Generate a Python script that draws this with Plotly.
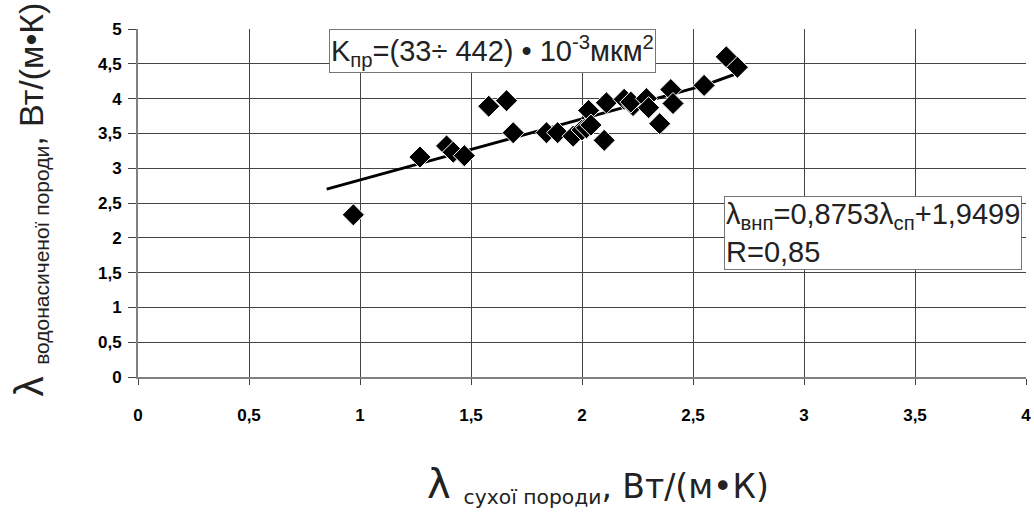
import plotly.graph_objects as go

# data
dry_x = [0.97, 1.27, 1.39, 1.42, 1.47, 1.58, 1.66, 1.69, 1.84, 1.89, 1.96, 2.00,
         2.02, 2.03, 2.04, 2.10, 2.11, 2.19, 2.23, 2.22, 2.29, 2.30, 2.35, 2.40,
         2.41, 2.55, 2.65, 2.70]
wet_y = [2.33, 3.16, 3.32, 3.23, 3.18, 3.89, 3.97, 3.51, 3.51, 3.51, 3.46, 3.55,
         3.58, 3.83, 3.62, 3.40, 3.94, 3.99, 3.90, 3.95, 4.00, 3.87, 3.64, 4.13,
         3.93, 4.19, 4.60, 4.45]
trend_x = [0.85, 2.55, 2.68, 2.70]
trend_y = [2.70, 4.19, 4.34, 4.45]
x_ticks = [0, 0.5, 1, 1.5, 2, 2.5, 3, 3.5, 4]
x_labels = ["0", "0,5", "1", "1,5", "2", "2,5", "3", "3,5", "4"]
y_ticks = [0, 0.5, 1, 1.5, 2, 2.5, 3, 3.5, 4, 4.5, 5]
y_labels = ["0", "0,5", "1", "1,5", "2", "2,5", "3", "3,5", "4", "4,5", "5"]

FONT = "Liberation Sans, Arial, sans-serif"
WIDE = "DejaVu Sans, sans-serif"

fig = go.Figure()
fig.add_trace(go.Scatter(x=trend_x, y=trend_y, mode="lines",
                         line=dict(color="black", width=3), showlegend=False,
                         hoverinfo="skip"))
fig.add_trace(go.Scatter(x=dry_x, y=wet_y, mode="markers",
                         marker=dict(symbol="diamond", size=17, color="black",
                                     line=dict(color="white", width=1)),
                         showlegend=False))

axis_common = dict(showgrid=True, gridcolor="#444", gridwidth=1, showline=True,
                   linecolor="#808080", linewidth=2, ticks="outside",
                   tickcolor="#444", zeroline=False, automargin=False,
                   tickfont=dict(family=FONT, size=17, color="black"))

fig.update_layout(
    width=1034, height=513,
    margin=dict(l=138, r=8, t=29, b=136),
    paper_bgcolor="white", plot_bgcolor="white",
    font=dict(family=FONT, color="black"),
    xaxis=dict(range=[0, 4], tickvals=x_ticks,
               ticktext=["<b>%s</b>" % t for t in x_labels],
               ticklen=6, ticklabelstandoff=16, ticklabeloverflow="allow",
               **axis_common),
    yaxis=dict(range=[0, 5], tickvals=y_ticks,
               ticktext=["<b>%s</b>" % t for t in y_labels],
               ticklen=8, ticklabelstandoff=3, **axis_common),
)

fig.add_annotation(
    xref="paper", yref="paper", x=0.215, y=1.0, xanchor="left", yanchor="top",
    text="K<sub>пр</sub>=(33÷ 442) • 10<sup>-3</sup>мкм<sup>2</sup>",
    showarrow=False, font=dict(family=FONT, size=29, color="#222"),
    bgcolor="white", bordercolor="#777", borderwidth=1, borderpad=1)

fig.add_annotation(
    xref="paper", yref="paper", x=0.9955, y=0.52, xanchor="right", yanchor="top",
    text="λ<sub>внп</sub>=0,8753λ<sub>сп</sub>+1,9499<br>R=0,85",
    showarrow=False, align="left", font=dict(family=FONT, size=29, color="#222"),
    bgcolor="white", bordercolor="#777", borderwidth=1, borderpad=1)

fig.add_annotation(
    xref="paper", yref="paper", x=0.518, y=-0.31, xanchor="center", yanchor="middle",
    text="<span style='font-size:40px'>λ</span>"
         "<span style='font-size:29px'><sub>  сухої породи</sub></span>"
         "<span style='font-size:33px'>, Вт/(м•К)</span>",
    showarrow=False, font=dict(family=WIDE, size=30, color="#222"))

fig.add_annotation(
    xref="paper", yref="paper", x=-0.122, y=0.509, xanchor="center", yanchor="middle",
    textangle=-90,
    text="<span style='font-size:40px'>λ</span>"
         "<span style='font-size:30px'><sub>  водонасиченої породи</sub></span>"
         "<span style='font-size:34px'>, Вт/(м•К)</span>",
    showarrow=False, font=dict(family=FONT, size=30, color="#222"))

fig.write_html("out.html", config={"displayModeBar": False},
               post_script="document.body.style.margin='0';")
